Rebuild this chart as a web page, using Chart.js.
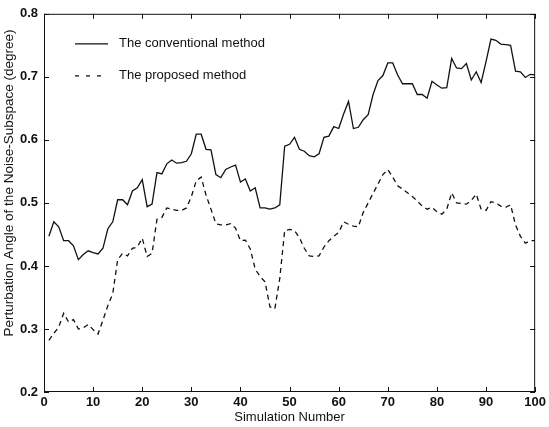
<!DOCTYPE html>
<html>
<head>
<meta charset="utf-8">
<script src="https://cdn.jsdelivr.net/npm/chart.js@4"></script>
<style>
  html, body { margin: 0; padding: 0; background: #fff; }
  #wrap { width: 549px; height: 427px; }
</style>
</head>
<body>
<div id="wrap"><canvas id="myChart" width="549" height="427"></canvas></div>
<script>
// simulation numbers 1..100
let simNumber = Array.from({ length: 100 }, (_, i) => i + 1);

let conventional = [
  0.447, 0.470, 0.462, 0.440, 0.440, 0.432, 0.410, 0.418, 0.424, 0.421,
  0.419, 0.428, 0.459, 0.470, 0.505, 0.505, 0.497, 0.519, 0.524, 0.537,
  0.494, 0.498, 0.548, 0.546, 0.562, 0.568, 0.563, 0.564, 0.566, 0.578,
  0.609, 0.609, 0.585, 0.584, 0.545, 0.540, 0.553, 0.557, 0.560, 0.533,
  0.538, 0.519, 0.524, 0.492, 0.492, 0.490, 0.492, 0.497, 0.590, 0.593,
  0.604, 0.585, 0.582, 0.575, 0.573, 0.578, 0.604, 0.606, 0.621, 0.618,
  0.641, 0.661, 0.618, 0.620, 0.632, 0.640, 0.672, 0.694, 0.702, 0.722,
  0.722, 0.703, 0.689, 0.689, 0.689, 0.672, 0.672, 0.666, 0.693, 0.687,
  0.682, 0.683, 0.729, 0.714, 0.713, 0.721, 0.695, 0.708, 0.691, 0.724,
  0.760, 0.758, 0.752, 0.751, 0.750, 0.709, 0.708, 0.699, 0.704, 0.703
];

let proposed = [
  0.282, 0.293, 0.303, 0.325, 0.311, 0.315, 0.300, 0.302, 0.307, 0.299,
  0.292, 0.314, 0.337, 0.356, 0.410, 0.420, 0.416, 0.428, 0.430, 0.444,
  0.415, 0.420, 0.474, 0.477, 0.492, 0.490, 0.488, 0.488, 0.492, 0.510,
  0.535, 0.541, 0.512, 0.490, 0.467, 0.465, 0.465, 0.467, 0.460, 0.440,
  0.441, 0.427, 0.395, 0.383, 0.375, 0.335, 0.332, 0.380, 0.456, 0.458,
  0.456, 0.445, 0.428, 0.416, 0.415, 0.416, 0.430, 0.440, 0.447, 0.453,
  0.470, 0.466, 0.463, 0.462, 0.485, 0.500, 0.515, 0.530, 0.545, 0.553,
  0.541, 0.527, 0.522, 0.516, 0.510, 0.503, 0.495, 0.490, 0.493, 0.486,
  0.482, 0.490, 0.516, 0.500, 0.499, 0.498, 0.504, 0.514, 0.490, 0.488,
  0.502, 0.500, 0.495, 0.493, 0.497, 0.465, 0.447, 0.436, 0.440, 0.440
];

let xTicks = [0, 10, 20, 30, 40, 50, 60, 70, 80, 90, 100];
let yTicks = [0.2, 0.3, 0.4, 0.5, 0.6, 0.7, 0.8];
let legendLabels = ["The conventional method", "The proposed method"];
let xTitle = "Simulation Number";
let yTitle = "Perturbation Angle of the Noise-Subspace (degree)";

let ink = "#111";
let font = "Liberation Sans, Arial, sans-serif";

// matlab-style box with inward ticks, axis titles and legend inside the plot
let frame = {
  id: "frame",
  afterDraw(chart) {
    let c = chart.ctx;
    let a = chart.chartArea;
    let xs = chart.scales.x;
    let ys = chart.scales.y;
    c.save();
    c.strokeStyle = ink;
    c.lineWidth = 1;
    c.strokeRect(a.left + 0.5, a.top + 0.5, a.right - a.left - 1, a.bottom - a.top - 1);
    c.beginPath();
    xTicks.forEach((t) => {
      let px = Math.round(xs.getPixelForValue(t)) + 0.5;
      c.moveTo(px, a.bottom); c.lineTo(px, a.bottom - 5);
      c.moveTo(px, a.top); c.lineTo(px, a.top + 5);
    });
    yTicks.forEach((t) => {
      let py = Math.round(ys.getPixelForValue(t)) + 0.5;
      c.moveTo(a.left, py); c.lineTo(a.left + 5, py);
      c.moveTo(a.right, py); c.lineTo(a.right - 5, py);
    });
    c.stroke();

    c.fillStyle = ink;
    c.textAlign = "center";
    c.textBaseline = "middle";
    c.font = "13px " + font;
    c.fillText(xTitle, (a.left + a.right) / 2, 417);
    c.save();
    c.translate(9, 183);
    c.rotate(-Math.PI / 2);
    c.font = "13.5px " + font;
    c.fillText(yTitle, 0, 0);
    c.restore();

    // legend
    let lx = a.left + 31;
    let rows = [a.top + 30, a.top + 62];
    let dashes = [[], [4, 7]];
    c.lineWidth = 1.2;
    c.textAlign = "left";
    c.font = "13px " + font;
    legendLabels.forEach((lab, i) => {
      c.setLineDash(dashes[i]);
      c.beginPath();
      c.moveTo(lx, rows[i]);
      c.lineTo(lx + 33, rows[i]);
      c.stroke();
      c.setLineDash([]);
      c.fillText(lab, lx + 44, rows[i]);
    });
    c.restore();
  },
};

var ctx = document.getElementById("myChart");

var myChart = new Chart(ctx, {
  type: "line",
  data: {
    datasets: [
      {
        label: legendLabels[0],
        data: simNumber.map((n, i) => ({ x: n, y: conventional[i] })),
        borderColor: ink,
        borderWidth: 1.3,
        pointRadius: 0,
        tension: 0,
      },
      {
        label: legendLabels[1],
        data: simNumber.map((n, i) => ({ x: n, y: proposed[i] })),
        borderColor: ink,
        borderWidth: 1.3,
        borderDash: [5, 4],
        pointRadius: 0,
        tension: 0,
      },
    ],
  },
  options: {
    responsive: false,
    animation: false,
    layout: { padding: { top: 13, right: 9, left: 0, bottom: 0 } },
    plugins: {
      legend: { display: false },
      tooltip: { enabled: false },
    },
    scales: {
      x: {
        type: "linear",
        min: 0,
        max: 100,
        afterFit: (s) => { s.height = 35; },
        afterBuildTicks: (s) => { s.ticks = xTicks.map((v) => ({ value: v })); },
        border: { display: false },
        grid: { display: false, drawTicks: false },
        ticks: {
          color: ink,
          padding: 3,
          maxRotation: 0,
          font: { family: font, size: 13, weight: "bold" },
        },
      },
      y: {
        type: "linear",
        min: 0.2,
        max: 0.8,
        afterFit: (s) => { s.width = 44; },
        afterBuildTicks: (s) => { s.ticks = yTicks.map((v) => ({ value: v })); },
        border: { display: false },
        grid: { display: false, drawTicks: false },
        ticks: {
          color: ink,
          padding: 6,
          font: { family: font, size: 13, weight: "bold" },
          callback: (v) => v.toFixed(1),
        },
      },
    },
  },
  plugins: [frame],
});
</script>
</body>
</html>
